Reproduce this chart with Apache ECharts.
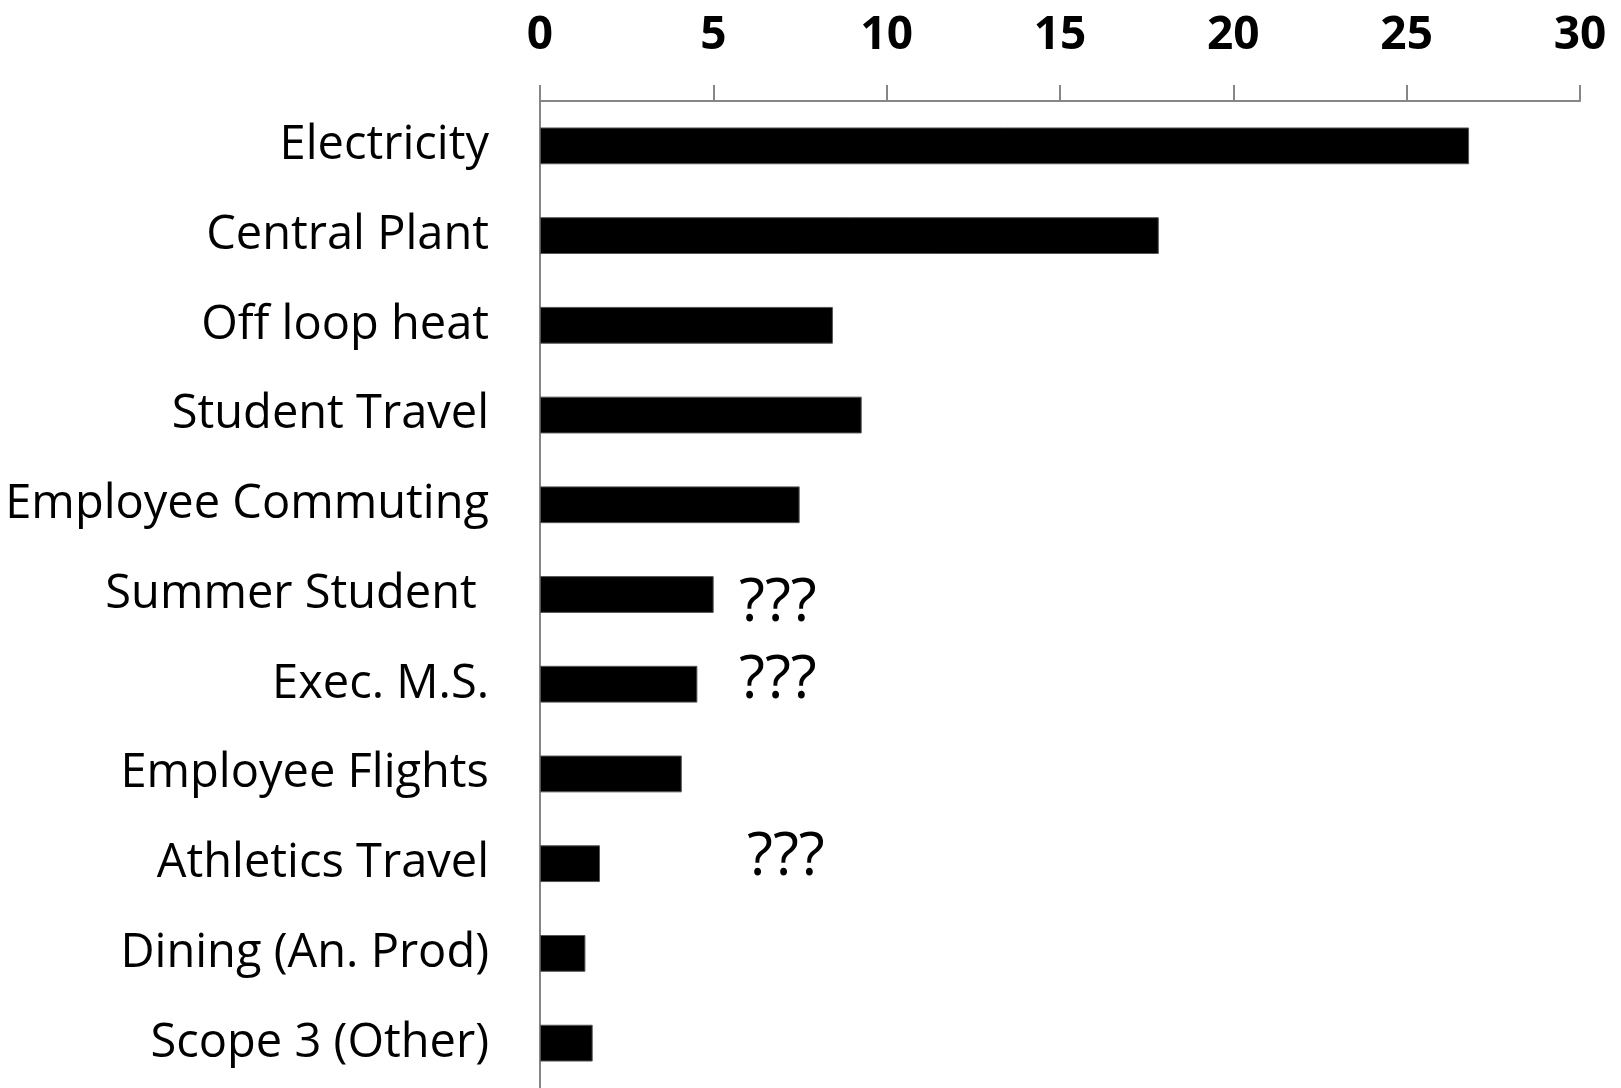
<!DOCTYPE html>
<html>
<head>
<meta charset="utf-8">
<script src="https://cdn.jsdelivr.net/npm/echarts@6/dist/echarts.min.js"></script>
<style>
    html, body {margin: 0; padding: 0; background: #fff;}
    #main {width: 1621px; height: 1088px;}
</style>
</head>
<body>
<div id="main"></div>
<script>
    // categories top to bottom
    var categories = ['Electricity', 'Central Plant', 'Off loop heat', 'Student Travel', 'Employee Commuting',
        'Summer Student ', 'Exec. M.S.', 'Employee Flights', 'Athletics Travel', 'Dining (An. Prod)', 'Scope 3 (Other)'];
    var values = [26.8, 17.85, 8.45, 9.28, 7.49, 5.01, 4.54, 4.09, 1.73, 1.31, 1.52];
    var xTicks = [0, 5, 10, 15, 20, 25, 30];

    var chart = echarts.init(document.getElementById('main'));

    var labelFont = '"Open Sans", "Noto Sans", sans-serif';
    // "???" notes
    function ask(x, y) {
        return {
            type: 'text', x: x, y: y,
            style: {text: '???', fontSize: 60, fontFamily: labelFont, fill: '#000',
                textAlign: 'left', textVerticalAlign: 'middle'}
        };
    }

    var option = {
        animation: false,
        backgroundColor: '#fff',
        grid: {left: 540, top: 101, width: 1040, height: 990},
        xAxis: {
            type: 'value',
            position: 'top',
            min: xTicks[0],
            max: xTicks[xTicks.length - 1],
            interval: 5,
            axisLine: {show: true, lineStyle: {color: '#868686', width: 2}},
            axisTick: {show: true, length: 16, lineStyle: {color: '#868686', width: 2}},
            splitLine: {show: false},
            axisLabel: {
                margin: 42,
                color: '#000',
                fontSize: 46,
                fontWeight: 'bold',
                fontFamily: labelFont
            }
        },
        yAxis: {
            type: 'category',
            inverse: true,
            data: categories,
            axisLine: {show: true, lineStyle: {color: '#868686', width: 2}},
            axisTick: {show: false},
            axisLabel: {
                margin: 51,
                color: '#000',
                fontSize: 47,
                fontFamily: labelFont
            }
        },
        series: [{
            type: 'bar',
            data: values,
            barWidth: '41%',
            itemStyle: {color: '#000', borderColor: '#555', borderWidth: 1}
        }],
        graphic: [
            ask(739, 604),
            ask(739, 681),
            ask(747, 858)
        ]
    };

    chart.setOption(option);
</script>
</body>
</html>
